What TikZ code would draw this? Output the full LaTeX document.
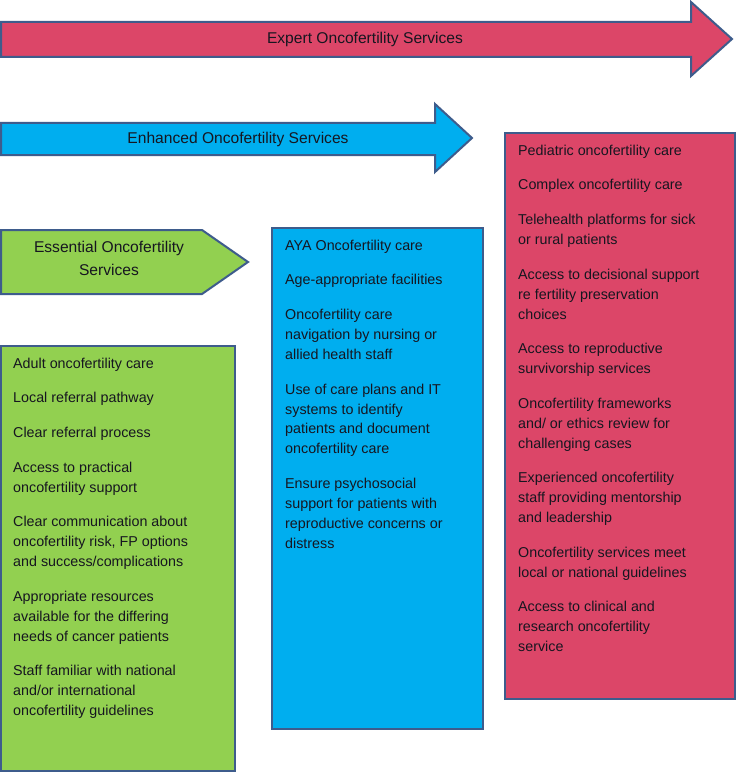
\documentclass[tikz,border=0pt]{standalone}
\usepackage{fontspec}
\setmainfont{Liberation Sans}
\definecolor{edgecol}{RGB}{62,92,140}
\definecolor{expred}{RGB}{220,70,104}
\definecolor{enhblue}{RGB}{0,174,239}
\definecolor{essgreen}{RGB}{146,208,80}
\definecolor{ink}{RGB}{22,22,32}
\tikzset{
  panel/.style={draw=edgecol, line width=2pt, line join=miter},
  hdr/.style={font=\fontsize{15.6}{23}\selectfont, text=ink, inner sep=0pt, align=center},
  items/.style={font=\fontsize{14.3}{19.9}\selectfont, text=ink, inner sep=0pt, align=left, anchor=north west}
}
\begin{document}
\begin{tikzpicture}[x=1pt,y=-1pt]
\path[use as bounding box, fill=white] (0,0) rectangle (737,773);

% Expert arrow
\path[panel, fill=expred] (1,22) -- (691,22) -- (691,2) -- (732,39) -- (691,76) -- (691,57) -- (1,57) -- cycle;
\node[hdr] (expert) at (365,39) {Expert Oncofertility Services};

% Enhanced arrow
\path[panel, fill=enhblue] (1,123) -- (435,123) -- (435,104) -- (472,138) -- (435,172) -- (435,155) -- (1,155) -- cycle;
\node[hdr] (enhanced) at (238,139) {Enhanced Oncofertility Services};

% Essential pentagon
\path[panel, fill=essgreen] (1,230) -- (202,230) -- (248,262) -- (202,294) -- (1,294) -- cycle;
\node[hdr] (essential) at (109,258) {Essential Oncofertility\\Services};

% Boxes
\path[panel, fill=essgreen] (1,346) rectangle (235,771);
\path[panel, fill=enhblue] (272,228) rectangle (483,729);
\path[panel, fill=expred] (505,133) rectangle (735,699);

\node[items] (greenitems) at (13,357.7) {Adult oncofertility care\\[14.8pt]
Local referral pathway\\[14.8pt]
Clear referral process\\[14.8pt]
Access to practical\\oncofertility support\\[14.8pt]
Clear communication about\\oncofertility risk, FP options\\and success/complications\\[14.8pt]
Appropriate resources\\available for the differing\\needs of cancer patients\\[14.8pt]
Staff familiar with national\\and/or international\\oncofertility guidelines};

\node[items] (blueitems) at (285,239.7) {AYA Oncofertility care\\[14.8pt]
Age-appropriate facilities\\[14.8pt]
Oncofertility care\\navigation by nursing or\\allied health staff\\[14.8pt]
Use of care plans and IT\\systems to identify\\patients and document\\oncofertility care\\[14.8pt]
Ensure psychosocial\\support for patients with\\reproductive concerns or\\distress};

\node[items] (reditems) at (518,144.7) {Pediatric oncofertility care\\[14.8pt]
Complex oncofertility care\\[14.8pt]
Telehealth platforms for sick\\or rural patients\\[14.8pt]
Access to decisional support\\re fertility preservation\\choices\\[14.8pt]
Access to reproductive\\survivorship services\\[14.8pt]
Oncofertility frameworks\\and/ or ethics review for\\challenging cases\\[14.8pt]
Experienced oncofertility\\staff providing mentorship\\and leadership\\[14.8pt]
Oncofertility services meet\\local or national guidelines\\[14.8pt]
Access to clinical and\\research oncofertility\\service};
\end{tikzpicture}
\end{document}
